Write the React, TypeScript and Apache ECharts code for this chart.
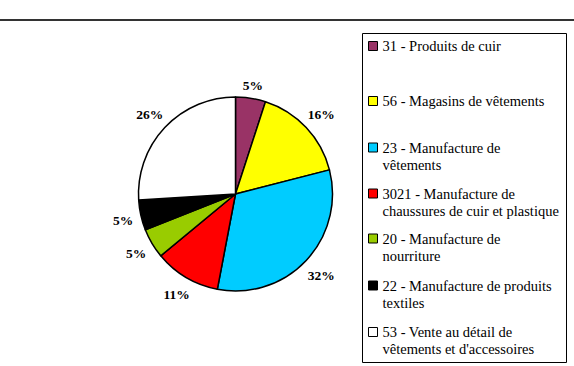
import React, { useEffect, useRef } from "react";
import * as echarts from "echarts";

const categories = [
  "31 - Produits de cuir",
  "56 - Magasins de vêtements",
  "23 - Manufacture de vêtements",
  "3021 - Manufacture de chaussures de cuir et plastique",
  "20 - Manufacture de nourriture",
  "22 - Manufacture de produits textiles",
  "53 - Vente au détail de vêtements et d'accessoires",
];
const values = [5, 16, 32, 11, 5, 5, 26];
const colors = ["#993366", "#FFFF00", "#00CCFF", "#FF0000", "#99CC00", "#000000", "#FFFFFF"];
const legendLabels = [
  "31 - Produits de cuir",
  "56 - Magasins de vêtements",
  "23 - Manufacture de\nvêtements",
  "3021 - Manufacture de\nchaussures de cuir et plastique",
  "20 - Manufacture de\nnourriture",
  "22 - Manufacture de produits\ntextiles",
  "53 - Vente au détail de\nvêtements et d'accessoires",
];

// layout constants
const FONT = "'Liberation Serif', 'Times New Roman', serif";
const LEGEND_CENTERS = [46, 101, 147.5, 193.5, 238.5, 285.5, 332];
const LINE_H = 17;
const PIE_CENTER = [235.5, 194];
const PIE_R = 97;
const LABEL_GAP = 7;

export default function App() {
  const ref = useRef<HTMLDivElement>(null);
  useEffect(() => {
    if (!ref.current) return;
    const chart = echarts.init(ref.current, null, { renderer: "svg" });
    const data = categories.map((name, i) => ({
      name,
      value: values[i],
      itemStyle: { color: colors[i] },
    }));
    const legends = categories.map((name, i) => {
      const lines = legendLabels[i].split("\n").length;
      // a leading empty line keeps the marker level with the first text line
      const text = lines === 1 ? legendLabels[i] : "\n" + legendLabels[i];
      const halfBox = lines === 1 ? LINE_H / 2 : (LINE_H * 3) / 2;
      return {
        data: [name],
        orient: "vertical",
        left: 368,
        top: LEGEND_CENTERS[i] - halfBox,
        padding: 0,
        itemWidth: 9,
        itemHeight: 9,
        itemGap: 0,
        icon: "rect",
        itemStyle: { borderColor: "#000", borderWidth: 1 },
        formatter: () => text,
        textStyle: {
          fontFamily: FONT,
          fontSize: 14.5,
          color: "#000",
          lineHeight: LINE_H,
        },
      };
    });
    chart.setOption({
      animation: false,
      backgroundColor: "#fff",
      graphic: [
        {
          type: "line",
          shape: { x1: 0, y1: 20, x2: 574, y2: 20 },
          style: { stroke: "#333", lineWidth: 2 },
        },
        {
          type: "rect",
          shape: { x: 362.5, y: 33.5, width: 204, height: 329 },
          style: { stroke: "#000", lineWidth: 1, fill: "#fff" },
        },
      ],
      legend: legends,
      series: [
        {
          type: "pie",
          center: PIE_CENTER,
          radius: PIE_R,
          startAngle: 90,
          clockwise: true,
          avoidLabelOverlap: false,
          data,
          itemStyle: { borderColor: "#000", borderWidth: 1.5 },
          label: {
            show: true,
            position: "inside",
            formatter: (p: any) => Math.round(p.percent) + "%",
            fontFamily: FONT,
            fontWeight: "bold",
            fontSize: 13.5,
            color: "#000",
            textBorderWidth: 0,
          },
          labelLine: { show: false },
          labelLayout: (params: any) => {
            const r = params.labelRect;
            const cx = r.x + r.width / 2;
            const cy = r.y + r.height / 2;
            const dx = cx - PIE_CENTER[0];
            const dy = cy - PIE_CENTER[1];
            const len = Math.sqrt(dx * dx + dy * dy) || 1;
            const ux = dx / len;
            const uy = dy / len;
            const ext = (Math.abs(ux) * r.width) / 2 + (Math.abs(uy) * r.height * 0.8) / 2;
            const d = PIE_R + LABEL_GAP + ext;
            return {
              dx: PIE_CENTER[0] + ux * d - cx,
              dy: PIE_CENTER[1] + uy * d - cy + 1,
            };
          },
          emphasis: { disabled: true },
        },
      ],
    });
    return () => chart.dispose();
  }, []);
  return (
    <div
      ref={ref}
      style={{ position: "absolute", left: 0, top: 0, width: 574, height: 366 }}
    />
  );
}
